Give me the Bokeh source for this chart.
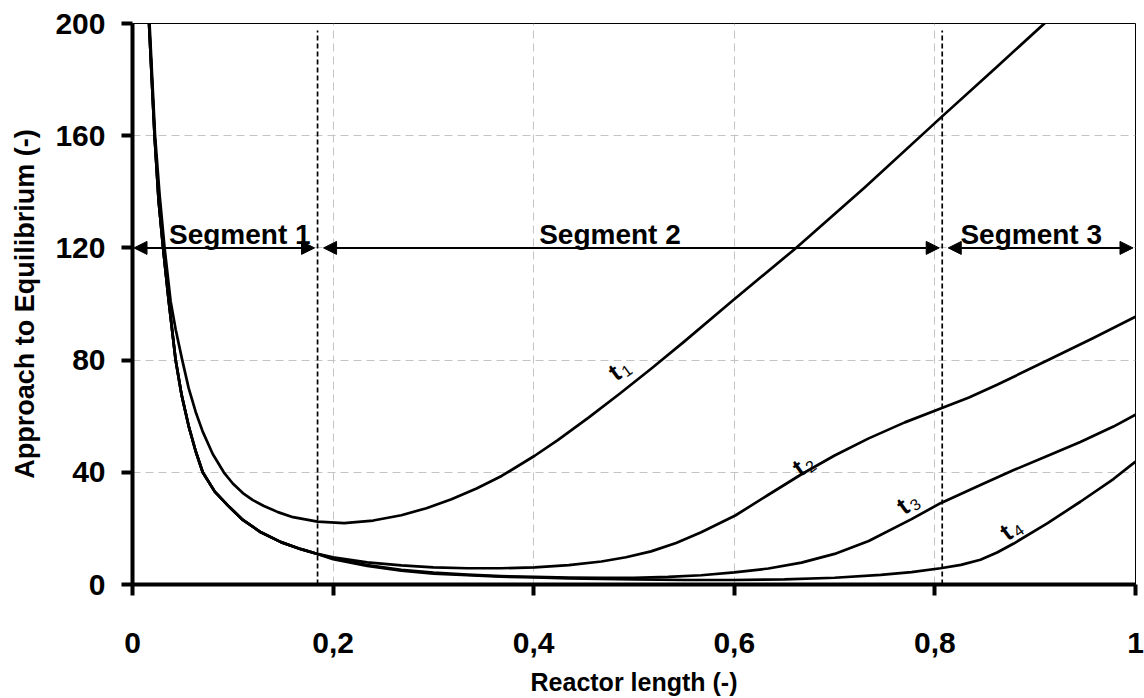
import math
from bokeh.plotting import figure
from bokeh.models import Arrow, NormalHead, CustomJSTickFormatter, FixedTicker
from bokeh.embed import file_html
from bokeh.resources import INLINE
from bokeh.core.properties import value

# ---- data: approach to equilibrium along the reactor at four times ----
t1_x = [0.012, 0.017, 0.0225, 0.027, 0.032, 0.038, 0.043, 0.0496, 0.056, 0.063, 0.070,
        0.080, 0.091, 0.100, 0.110, 0.120, 0.131, 0.145, 0.160, 0.1845, 0.211, 0.240,
        0.268, 0.293, 0.318, 0.343, 0.368, 0.401, 0.424, 0.455, 0.486, 0.518, 0.550,
        0.597, 0.661, 0.730, 0.807, 0.860, 0.910, 0.950]
t1_y = [250, 200, 160, 139, 120, 101, 91, 80, 70, 61.5, 54.5,
        46.5, 40, 36, 32.6, 30.1, 28.0, 25.8, 24.0, 22.4, 21.9, 22.8,
        24.7, 27.2, 30.4, 34.2, 38.7, 45.9, 51.5, 59.6, 68.1, 77.2, 86.6,
        100.8, 119.8, 141.5, 166.8, 184.0, 200.3, 213.0]

# steep entrance part shared by t2, t3 and t4
head_x = [0.012, 0.0165, 0.022, 0.026, 0.0305, 0.036, 0.043, 0.049, 0.056, 0.063, 0.070,
          0.082, 0.095, 0.110, 0.128, 0.148, 0.168, 0.1845]
head_y = [250, 200, 160, 137, 120, 101.5, 80, 67.5, 56.5, 47.5, 40,
          33.1, 28.2, 23.0, 18.6, 15.1, 12.6, 10.9]

t2_x = head_x + [0.200, 0.234, 0.268, 0.300, 0.334, 0.367, 0.401, 0.435, 0.4675, 0.492, 0.517,
                 0.542, 0.567, 0.601, 0.634, 0.667, 0.700, 0.734, 0.770, 0.807, 0.834, 0.862,
                 0.915, 0.958, 1.000]
t2_y = head_y + [9.7, 7.9, 6.8, 6.1, 5.8, 5.8, 6.1, 6.9, 8.2, 9.7, 11.8,
                 14.8, 18.6, 24.6, 32.0, 39.3, 46.0, 52.1, 57.8, 62.9, 66.7, 71.2,
                 80.4, 87.9, 95.5]

t3_x = head_x + [0.200, 0.234, 0.268, 0.300, 0.334, 0.367, 0.401, 0.435, 0.4675, 0.500, 0.534,
                 0.567, 0.600, 0.634, 0.667, 0.700, 0.734, 0.7767, 0.8056, 0.8454, 0.8786,
                 0.912, 0.945, 0.978, 1.000]
t3_y = head_y + [9.3, 6.9, 5.2, 4.2, 3.5, 3.0, 2.7, 2.5, 2.4, 2.4, 2.7,
                 3.3, 4.3, 5.7, 7.8, 10.9, 15.5, 23.3, 29.0, 35.5, 40.8,
                 45.8, 50.8, 56.3, 60.5]

t4_x = head_x + [0.200, 0.234, 0.268, 0.300, 0.334, 0.367, 0.401, 0.435, 0.4675, 0.500, 0.550,
                 0.600, 0.650, 0.700, 0.746, 0.7767, 0.8056, 0.826, 0.8454, 0.862, 0.8786,
                 0.912, 0.945, 0.978, 1.000]
t4_y = head_y + [9.0, 6.6, 4.9, 3.9, 3.3, 2.8, 2.5, 2.2, 2.0, 1.8, 1.6,
                 1.6, 1.8, 2.4, 3.4, 4.4, 5.8, 7.0, 8.8, 11.4, 14.6,
                 21.8, 29.5, 37.6, 43.8]

# reactor segments
segment_bounds = [0.0, 0.1845, 0.8073, 1.0]
segment_names = ["Segment 1", "Segment 2", "Segment 3"]
segment_label_x = [0.107, 0.476, 0.896]
segment_arrow_y = 120
segment_label_y = 124.6

# curve tags: subscript index and anchor position of each tag
curve_tags = ["1", "2", "3", "4"]
curve_tag_x = [0.4835, 0.667, 0.771, 0.874]
curve_tag_y = [76.6, 42.5, 28.9, 19.6]

x_ticks = [0, 0.2, 0.4, 0.6, 0.8, 1.0]
y_ticks = [0, 40, 80, 120, 160, 200]

FONT = "Liberation Sans"

p = figure(width=1144, height=698, x_range=(0, 1), y_range=(0, 200),
           output_backend="svg", toolbar_location=None,
           min_border_left=132, min_border_right=9, min_border_top=23, min_border_bottom=114)
p.background_fill_color = "white"
p.border_fill_color = "white"
p.outline_line_color = "black"
p.outline_line_width = 1

# grid
for g in (p.xgrid, p.ygrid):
    g.grid_line_color = "#c4c4c4"
    g.grid_line_dash = "8 5"
    g.grid_line_width = 1
p.xgrid.ticker = FixedTicker(ticks=x_ticks)
p.ygrid.ticker = FixedTicker(ticks=y_ticks)

# axes
p.xaxis.ticker = FixedTicker(ticks=x_ticks)
p.yaxis.ticker = FixedTicker(ticks=y_ticks)
p.xaxis.formatter = CustomJSTickFormatter(code="""
    if (Math.abs(tick) < 1e-9 || Math.abs(tick - 1) < 1e-9) return tick.toFixed(0);
    return tick.toFixed(1).replace('.', ',');
""")
for ax in (p.xaxis, p.yaxis):
    ax.axis_line_width = 4
    ax.axis_line_color = "black"
    ax.major_tick_line_width = 4
    ax.major_tick_line_color = "black"
    ax.major_tick_out = 11
    ax.major_tick_in = 0
    ax.minor_tick_line_color = None
    ax.major_label_text_font = FONT
    ax.major_label_text_font_style = "bold"
    ax.major_label_text_font_size = "30px"
    ax.major_label_text_color = "black"
    ax.axis_label_text_font = FONT
    ax.axis_label_text_font_style = "bold"
    ax.axis_label_text_color = "black"
p.xaxis.axis_label_text_font_size = "25px"
p.yaxis.axis_label_text_font_size = "27px"
p.xaxis.major_label_standoff = 37
p.yaxis.major_label_standoff = 16
p.xaxis.axis_label = "Reactor length (-)"
p.yaxis.axis_label = "Approach to Equilibrium (-)"
p.xaxis.axis_label_standoff = 12
p.yaxis.axis_label_standoff = 12

# segment boundaries
for b in segment_bounds[1:3]:
    p.segment(x0=[b], y0=[0], x1=[b], y1=[197.5], line_color="black",
              line_width=1.7, line_dash="5 3")

# curves
for xs, ys in ((t1_x, t1_y), (t2_x, t2_y), (t3_x, t3_y), (t4_x, t4_y)):
    p.line(xs, ys, line_color="black", line_width=2.7, line_join="round")

# segment arrows
gap = 0.003
for i in range(3):
    x0 = segment_bounds[i] + (0.0015 if i == 0 else gap + 0.003)
    x1 = segment_bounds[i + 1] - (0.0025 if i == 2 else gap)
    p.add_layout(Arrow(
        start=NormalHead(size=13, fill_color="black", line_color="black", line_width=1),
        end=NormalHead(size=13, fill_color="black", line_color="black", line_width=1),
        x_start=x0, y_start=segment_arrow_y, x_end=x1, y_end=segment_arrow_y,
        line_color="black", line_width=2))

p.text(x=segment_label_x, y=[segment_label_y] * 3, text=segment_names,
       text_font=value(FONT), text_font_style="bold", text_font_size="28px",
       text_align="center", text_baseline="alphabetic", text_color="black")

# curve tags: bold "t" with a small subscript index, tilted along the curve
ang = math.radians(36)
ux, uy = math.cos(ang), -math.sin(ang)   # along the text (screen coords)
vx, vy = math.sin(ang), math.cos(ang)    # downward in the text frame
p.text(x=curve_tag_x, y=curve_tag_y, text=["t"] * 4, angle=ang,
       x_offset=-4 * ux, y_offset=-4 * uy,
       text_font=value(FONT), text_font_style="bold", text_font_size="25px",
       text_align="center", text_baseline="middle", text_color="black")
dx, dy = 7, 6
p.text(x=curve_tag_x, y=curve_tag_y, text=curve_tags, angle=ang,
       x_offset=dx * ux + dy * vx, y_offset=dx * uy + dy * vy,
       text_font=value(FONT), text_font_size="16px",
       text_align="center", text_baseline="middle", text_color="black")

open("out.html", "w").write(file_html(p, INLINE))
